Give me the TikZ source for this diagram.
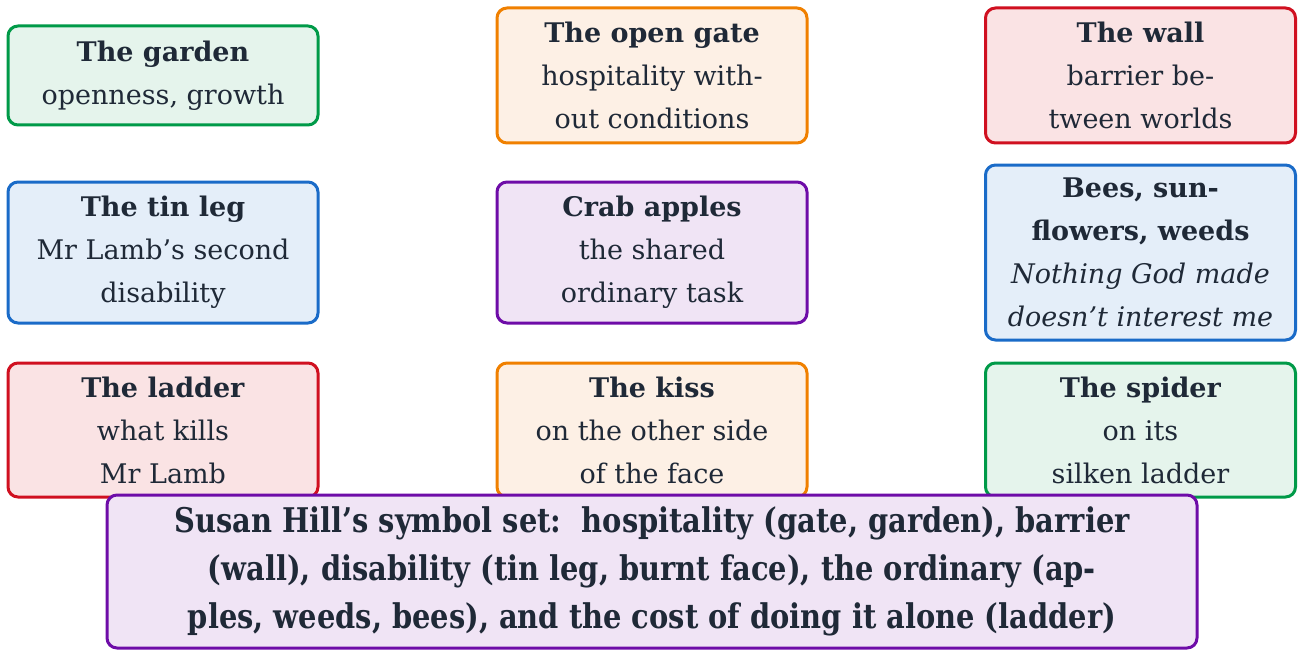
\documentclass[tikz,border=0pt]{standalone}
\usepackage{fontspec}
\setmainfont{DejaVu Serif}
\newfontfamily\condfont[FakeStretch=0.85]{DejaVu Serif}
\definecolor{txt}{HTML}{1F2937}
\definecolor{gline}{HTML}{009A48}\definecolor{gfill}{HTML}{E5F4EC}
\definecolor{oline}{HTML}{F08000}\definecolor{ofill}{HTML}{FDF0E5}
\definecolor{rline}{HTML}{D01020}\definecolor{rfill}{HTML}{FAE3E4}
\definecolor{bline}{HTML}{1A6BC8}\definecolor{bfill}{HTML}{E4EEF9}
\definecolor{pline}{HTML}{6E0CA8}\definecolor{pfill}{HTML}{F0E4F5}
\tikzset{
  card/.style={draw, rounded corners=10pt, line width=3pt, minimum width=310pt,
    align=center, text=txt, inner sep=0pt, font=\fontsize{27}{43}\selectfont},
  green/.style={card, draw=gline, fill=gfill},
  orange/.style={card, draw=oline, fill=ofill},
  red/.style={card, draw=rline, fill=rfill},
  blue/.style={card, draw=bline, fill=bfill},
  purple/.style={card, draw=pline, fill=pfill},
}
\begin{document}
\begin{tikzpicture}[x=1pt,y=-1pt]
\useasboundingbox (0,0) rectangle (1298,650);
% first row
\node[green, minimum height=99pt] (garden) at (163,75.5) {\textbf{The garden}\\openness, growth};
\node[orange, minimum height=135pt] (gate) at (652,75.5) {\textbf{The open gate}\\hospitality with-\\out conditions};
\node[red, minimum height=135pt] (wall) at (1140.5,75.5) {\textbf{The wall}\\barrier be-\\tween worlds};
% second row
\node[blue, minimum height=141pt] (tinleg) at (163,252.5) {\textbf{The tin leg}\\Mr Lamb’s second\\disability};
\node[purple, minimum height=141pt] (apples) at (652,252.5) {\textbf{Crab apples}\\the shared\\ordinary task};
\node[blue, minimum height=175pt] (bees) at (1140.5,252.5) {\textbf{Bees, sun-}\\\textbf{flowers, weeds}\\\textit{Nothing God made}\\\textit{doesn’t interest me}};
% third row
\node[red, minimum height=134pt] (ladder) at (163,430) {\textbf{The ladder}\\what kills\\Mr Lamb};
\node[orange, minimum height=134pt] (kiss) at (652,430) {\textbf{The kiss}\\on the other side\\of the face};
\node[green, minimum height=134pt] (spider) at (1140.5,430) {\textbf{The spider}\\on its\\silken ladder};
% summary
\node[purple, minimum width=1090pt, minimum height=153pt, font=\condfont\bfseries\fontsize{34}{48}\selectfont] (summary) at (652,571.5)
  {Susan Hill’s symbol set:\ \ hospitality (gate, garden), barrier\\(wall), disability (tin leg, burnt face), the ordinary (ap-\\ples, weeds, bees), and the cost of doing it alone (ladder)};
\end{tikzpicture}
\end{document}
